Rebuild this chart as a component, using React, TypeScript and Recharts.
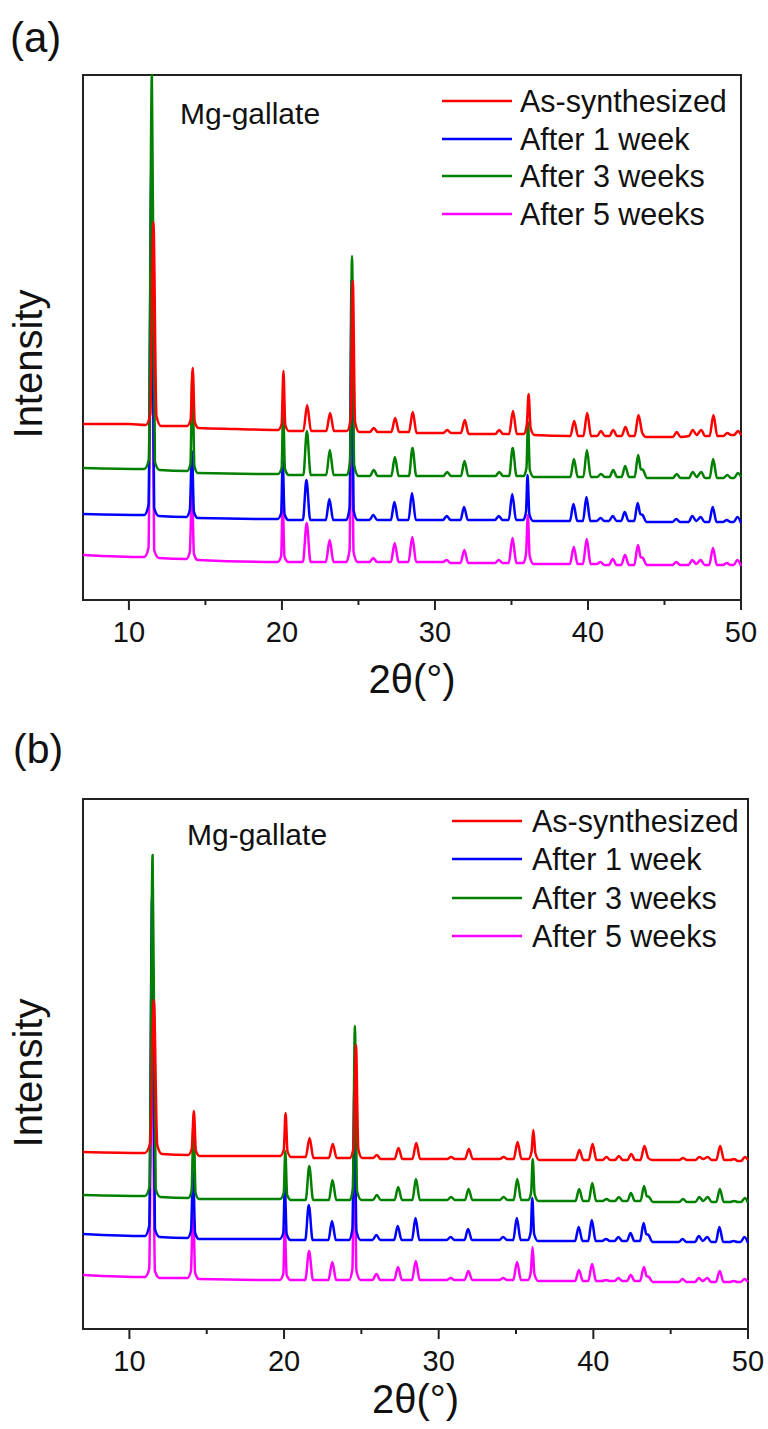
import { Legend, Line, LineChart, ReferenceArea, XAxis, YAxis } from "recharts";

type Pt = [number, number];

const FONT = '"Liberation Sans", Arial, sans-serif';

const X_TICKS = [10, 15, 20, 25, 30, 35, 40, 45, 50];
const X_LABELS = [10, 20, 30, 40, 50];

const SERIES_NAMES = ["As-synthesized", "After 1 week", "After 3 weeks", "After 5 weeks"];
const SERIES_COLORS = ["#ff0000", "#0000ff", "#008000", "#ff00ff"];

// panel (a), intensity in arbitrary units, curves already offset
const redA: Pt[] = [
  [7, 176], [10, 176], [11.1, 175], [11.4, 186], [11.6, 378], [11.8, 184], [12.1, 174],
  [13.8, 174], [14.03, 180], [14.17, 232], [14.3, 178], [14.55, 172],
  [17, 171], [19.75, 170], [19.98, 176], [20.1, 229], [20.22, 175], [20.45, 169],
  [21.4, 169], [21.65, 195], [21.9, 169],
  [22.9, 169], [23.15, 187], [23.4, 169],
  [24.25, 169], [24.5, 182], [24.63, 319], [24.78, 178], [25.05, 168],
  [25.75, 168], [26.0, 172], [26.25, 168],
  [27.15, 168], [27.4, 182], [27.65, 168],
  [28.3, 168], [28.55, 188], [28.8, 167],
  [30.55, 167], [30.8, 170], [31.05, 167],
  [31.7, 167], [31.95, 180], [32.2, 166],
  [33.95, 166], [34.2, 170], [34.45, 166],
  [34.85, 166], [35.1, 189], [35.35, 166],
  [35.8, 166], [36.0, 175], [36.12, 206], [36.25, 172], [36.5, 165],
  [38.85, 164], [39.1, 179], [39.35, 164],
  [39.7, 164], [39.95, 187], [40.2, 164],
  [40.6, 164], [40.85, 169], [41.1, 164],
  [41.4, 164], [41.65, 170], [41.9, 164],
  [42.2, 164], [42.45, 173], [42.7, 164],
  [43.05, 164], [43.3, 185], [43.55, 167], [43.8, 163],
  [45.55, 163], [45.8, 168], [46.05, 163],
  [46.6, 164], [46.85, 170], [47.1, 165], [47.4, 170], [47.65, 164],
  [47.95, 164], [48.2, 185], [48.45, 164],
  [48.85, 164], [49.1, 167], [49.35, 165],
  [49.55, 165], [49.8, 169], [50, 165],
];

const blueA: Pt[] = [
  [7, 86], [11.0, 85], [11.28, 95], [11.47, 430], [11.65, 92], [11.95, 84],
  [13.75, 83], [13.98, 90], [14.12, 149], [14.25, 88], [14.5, 82],
  [19.72, 81], [19.95, 87], [20.05, 140], [20.17, 86], [20.42, 80],
  [21.37, 80], [21.6, 120], [21.85, 80],
  [22.87, 80], [23.1, 101], [23.35, 80],
  [24.2, 80], [24.42, 92], [24.55, 320], [24.68, 90], [24.95, 80],
  [25.72, 80], [25.97, 85], [26.22, 80],
  [27.12, 80], [27.35, 98], [27.6, 80],
  [28.27, 80], [28.5, 107], [28.75, 80],
  [30.52, 80], [30.77, 84], [31.02, 80],
  [31.67, 80], [31.9, 93], [32.15, 80],
  [33.92, 80], [34.17, 84], [34.42, 80],
  [34.82, 80], [35.05, 106], [35.3, 80],
  [35.77, 80], [35.95, 88], [36.05, 125], [36.17, 86], [36.42, 79],
  [38.82, 79], [39.05, 96], [39.3, 79],
  [39.67, 79], [39.9, 103], [40.15, 79],
  [40.57, 79], [40.82, 82], [41.07, 79],
  [41.37, 79], [41.62, 84], [41.87, 79],
  [42.17, 79], [42.4, 88], [42.65, 79],
  [43.02, 79], [43.25, 97], [43.42, 86], [43.57, 85], [43.82, 78],
  [45.52, 78], [45.77, 81], [46.02, 78],
  [46.57, 78], [46.82, 84], [47.07, 79], [47.37, 83], [47.62, 78],
  [47.92, 78], [48.15, 93], [48.4, 78],
  [48.82, 78], [49.07, 80], [49.32, 78],
  [49.52, 78], [49.77, 83], [50, 77],
];

const greenA: Pt[] = [
  [7, 132], [11.0, 131], [11.3, 140], [11.5, 525], [11.7, 138], [12.0, 130],
  [13.8, 129], [14.02, 136], [14.15, 228], [14.28, 134], [14.5, 127],
  [19.75, 126], [19.98, 132], [20.08, 188], [20.2, 131], [20.45, 125],
  [21.4, 125], [21.63, 169], [21.88, 125],
  [22.9, 125], [23.13, 150], [23.38, 125],
  [24.25, 125], [24.45, 138], [24.58, 344], [24.72, 135], [25.0, 124],
  [25.75, 124], [26.0, 130], [26.25, 124],
  [27.15, 124], [27.38, 143], [27.63, 124],
  [28.3, 124], [28.53, 152], [28.78, 124],
  [30.55, 124], [30.8, 128], [31.05, 124],
  [31.7, 124], [31.93, 139], [32.18, 124],
  [33.95, 124], [34.2, 128], [34.45, 124],
  [34.85, 124], [35.08, 152], [35.33, 124],
  [35.8, 124], [35.98, 132], [36.08, 178], [36.2, 130], [36.45, 123],
  [38.85, 123], [39.08, 141], [39.33, 123],
  [39.7, 123], [39.93, 150], [40.18, 123],
  [40.6, 123], [40.85, 126], [41.1, 123],
  [41.4, 123], [41.65, 130], [41.9, 123],
  [42.2, 123], [42.43, 134], [42.68, 123],
  [43.05, 123], [43.28, 145], [43.45, 131], [43.6, 130], [43.85, 122],
  [45.55, 122], [45.8, 126], [46.05, 122],
  [46.6, 122], [46.85, 128], [47.1, 123], [47.4, 128], [47.65, 122],
  [47.95, 122], [48.18, 141], [48.43, 122],
  [48.85, 122], [49.1, 125], [49.35, 122],
  [49.55, 122], [49.8, 127], [50, 123],
];

const magentaA: Pt[] = [
  [7, 45], [11.0, 43], [11.28, 52], [11.47, 380], [11.65, 50], [11.95, 42],
  [13.75, 41], [13.98, 48], [14.12, 112], [14.25, 46], [14.5, 40],
  [19.72, 38], [19.95, 44], [20.05, 97], [20.17, 43], [20.42, 38],
  [21.37, 38], [21.62, 77], [21.87, 38],
  [22.87, 38], [23.12, 60], [23.37, 38],
  [24.2, 38], [24.42, 50], [24.55, 250], [24.68, 48], [24.95, 38],
  [25.72, 38], [25.97, 42], [26.22, 38],
  [27.12, 38], [27.37, 57], [27.62, 38],
  [28.27, 38], [28.52, 63], [28.77, 38],
  [30.52, 38], [30.77, 40], [31.02, 37],
  [31.67, 37], [31.92, 50], [32.17, 37],
  [33.92, 37], [34.17, 40], [34.42, 37],
  [34.82, 37], [35.07, 62], [35.32, 37],
  [35.77, 37], [35.95, 46], [36.07, 85], [36.19, 44], [36.44, 36],
  [38.82, 36], [39.07, 53], [39.32, 36],
  [39.67, 36], [39.92, 61], [40.17, 36],
  [40.57, 36], [40.82, 38], [41.07, 35],
  [41.37, 35], [41.62, 41], [41.87, 35],
  [42.17, 35], [42.42, 45], [42.67, 35],
  [43.02, 35], [43.27, 55], [43.44, 43], [43.59, 42], [43.84, 35],
  [45.52, 35], [45.77, 38], [46.02, 35],
  [46.57, 35], [46.82, 40], [47.07, 36], [47.37, 40], [47.62, 35],
  [47.92, 35], [48.17, 52], [48.42, 35],
  [48.82, 35], [49.07, 37], [49.32, 35],
  [49.52, 35], [49.77, 40], [50, 34],
];

// panel (b)
const redB: Pt[] = [
  [7, 177], [11.0, 176], [11.35, 186], [11.58, 329], [11.8, 184], [12.1, 175],
  [13.8, 174], [14.03, 180], [14.17, 218], [14.3, 178], [14.55, 173],
  [19.75, 173], [19.98, 179], [20.1, 216], [20.22, 178], [20.45, 172],
  [21.4, 172], [21.65, 191], [21.9, 171],
  [22.9, 171], [23.15, 185], [23.4, 171],
  [24.25, 171], [24.5, 182], [24.65, 284], [24.8, 180], [25.05, 171],
  [25.75, 171], [26.0, 174], [26.25, 170],
  [27.15, 170], [27.4, 181], [27.65, 170],
  [28.3, 170], [28.55, 186], [28.8, 170],
  [30.55, 170], [30.8, 172], [31.05, 170],
  [31.7, 170], [31.95, 180], [32.2, 170],
  [33.95, 170], [34.2, 172], [34.45, 170],
  [34.85, 170], [35.1, 187], [35.35, 170],
  [35.8, 170], [36.0, 177], [36.12, 199], [36.25, 176], [36.5, 169],
  [38.85, 169], [39.1, 179], [39.35, 169],
  [39.7, 169], [39.95, 185], [40.2, 169],
  [40.6, 169], [40.85, 172], [41.1, 169],
  [41.4, 169], [41.65, 173], [41.9, 169],
  [42.2, 169], [42.45, 175], [42.7, 169],
  [43.05, 169], [43.3, 183], [43.55, 171], [43.8, 169],
  [45.55, 169], [45.8, 171], [46.05, 169],
  [46.6, 169], [46.85, 172], [47.1, 170], [47.4, 172], [47.65, 169],
  [47.95, 169], [48.2, 183], [48.45, 169],
  [48.85, 169], [49.1, 170], [49.35, 168],
  [49.55, 168], [49.8, 172], [50, 169],
];

const blueB: Pt[] = [
  [7, 95], [11.0, 93], [11.28, 103], [11.47, 433], [11.65, 100], [11.95, 92],
  [13.75, 91], [13.98, 98], [14.12, 158], [14.25, 96], [14.5, 90],
  [19.72, 90], [19.95, 96], [20.05, 142], [20.17, 95], [20.42, 89],
  [21.37, 89], [21.6, 124], [21.85, 89],
  [22.87, 89], [23.1, 108], [23.35, 89],
  [24.2, 89], [24.42, 100], [24.55, 240], [24.68, 98], [24.95, 89],
  [25.72, 89], [25.97, 94], [26.22, 89],
  [27.12, 89], [27.35, 103], [27.6, 89],
  [28.27, 89], [28.5, 111], [28.75, 89],
  [30.52, 89], [30.77, 92], [31.02, 89],
  [31.67, 89], [31.9, 100], [32.15, 89],
  [33.92, 89], [34.17, 92], [34.42, 89],
  [34.82, 89], [35.05, 111], [35.3, 89],
  [35.77, 89], [35.95, 97], [36.05, 131], [36.17, 95], [36.42, 88],
  [38.82, 88], [39.05, 102], [39.3, 88],
  [39.67, 88], [39.9, 109], [40.15, 88],
  [40.57, 88], [40.82, 90], [41.07, 88],
  [41.37, 88], [41.62, 92], [41.87, 88],
  [42.17, 88], [42.4, 96], [42.65, 88],
  [43.02, 88], [43.25, 106], [43.42, 95], [43.57, 94], [43.82, 87],
  [45.52, 87], [45.77, 90], [46.02, 87],
  [46.57, 87], [46.82, 93], [47.07, 88], [47.37, 92], [47.62, 87],
  [47.92, 87], [48.15, 102], [48.4, 87],
  [48.82, 87], [49.07, 88], [49.32, 87],
  [49.52, 87], [49.77, 92], [50, 86],
];

const greenB: Pt[] = [
  [7, 134], [11.0, 133], [11.3, 142], [11.5, 474], [11.7, 140], [12.0, 132],
  [13.8, 131], [14.02, 138], [14.15, 208], [14.28, 136], [14.5, 130],
  [19.75, 130], [19.98, 136], [20.08, 178], [20.2, 134], [20.45, 129],
  [21.4, 129], [21.63, 163], [21.88, 129],
  [22.9, 129], [23.13, 149], [23.38, 129],
  [24.25, 129], [24.45, 140], [24.58, 303], [24.72, 138], [25.0, 129],
  [25.75, 129], [26.0, 134], [26.25, 129],
  [27.15, 129], [27.38, 142], [27.63, 129],
  [28.3, 129], [28.53, 150], [28.78, 129],
  [30.55, 129], [30.8, 132], [31.05, 129],
  [31.7, 129], [31.93, 140], [32.18, 129],
  [33.95, 129], [34.2, 132], [34.45, 129],
  [34.85, 129], [35.08, 150], [35.33, 129],
  [35.8, 129], [35.98, 137], [36.08, 170], [36.2, 135], [36.45, 128],
  [38.85, 128], [39.08, 140], [39.33, 128],
  [39.7, 128], [39.93, 146], [40.18, 128],
  [40.6, 128], [40.85, 130], [41.1, 128],
  [41.4, 128], [41.65, 132], [41.9, 128],
  [42.2, 128], [42.43, 136], [42.68, 128],
  [43.05, 128], [43.28, 143], [43.45, 133], [43.6, 132], [43.85, 127],
  [45.55, 127], [45.8, 130], [46.05, 127],
  [46.6, 127], [46.85, 132], [47.1, 128], [47.4, 132], [47.65, 127],
  [47.95, 127], [48.18, 140], [48.43, 127],
  [48.85, 127], [49.1, 128], [49.35, 127],
  [49.55, 127], [49.8, 131], [50, 126],
];

const magentaB: Pt[] = [
  [7, 54], [11.0, 52], [11.28, 60], [11.47, 330], [11.65, 58], [11.95, 51],
  [13.75, 51], [13.98, 58], [14.12, 126], [14.25, 56], [14.5, 50],
  [19.72, 49], [19.95, 55], [20.05, 101], [20.17, 54], [20.42, 49],
  [21.37, 49], [21.62, 78], [21.87, 49],
  [22.87, 49], [23.12, 67], [23.37, 49],
  [24.2, 49], [24.42, 60], [24.55, 200], [24.68, 58], [24.95, 49],
  [25.72, 49], [25.97, 55], [26.22, 49],
  [27.12, 49], [27.37, 62], [27.62, 49],
  [28.27, 49], [28.52, 68], [28.77, 49],
  [30.52, 49], [30.77, 51], [31.02, 49],
  [31.67, 49], [31.92, 58], [32.17, 49],
  [33.92, 49], [34.17, 51], [34.42, 49],
  [34.82, 49], [35.07, 67], [35.32, 49],
  [35.77, 49], [35.95, 56], [36.07, 82], [36.19, 55], [36.44, 48],
  [38.82, 48], [39.07, 59], [39.32, 48],
  [39.67, 48], [39.92, 65], [40.17, 48],
  [40.57, 48], [40.82, 49], [41.07, 48],
  [41.37, 48], [41.62, 51], [41.87, 48],
  [42.17, 48], [42.42, 54], [42.67, 48],
  [43.02, 48], [43.27, 62], [43.44, 53], [43.59, 52], [43.84, 47],
  [45.52, 47], [45.77, 50], [46.02, 47],
  [46.57, 47], [46.82, 51], [47.07, 48], [47.37, 51], [47.62, 47],
  [47.92, 47], [48.17, 58], [48.42, 47],
  [48.82, 47], [49.07, 48], [49.32, 47],
  [49.52, 47], [49.77, 50], [50, 47],
];

const toRows = (pts: Pt[]) => pts.map(([x, y]) => ({ x, y }));

function AxisTick({ x, y, payload }: any) {
  const major = X_LABELS.includes(payload.value);
  return (
    <g>
      <line x1={x} y1={y} x2={x} y2={y + (major ? 10 : 5)} stroke="#222" strokeWidth={2} />
      {major && (
        <text x={x} y={y + 42} textAnchor="middle" fontSize={29} fill="#111" fontFamily={FONT}>
          {payload.value}
        </text>
      )}
    </g>
  );
}

function LegendBox({ rowH, gap }: { rowH: number; gap: number }) {
  return (
    <div style={{ fontFamily: FONT, fontSize: 30.5, color: "#111" }}>
      {SERIES_NAMES.map((name, i) => (
        <div key={name} style={{ display: "flex", alignItems: "center", height: rowH }}>
          <svg width={70} height={4} style={{ display: "block" }}>
            <line x1={0} y1={2} x2={70} y2={2} stroke={SERIES_COLORS[i]} strokeWidth={2.5} />
          </svg>
          <span style={{ marginLeft: gap, lineHeight: "34px", whiteSpace: "nowrap" }}>{name}</span>
        </div>
      ))}
    </div>
  );
}

interface PanelProps {
  height: number;
  margin: { top: number; right: number; bottom: number; left: number };
  yMax: number;
  red: Pt[];
  blue: Pt[];
  green: Pt[];
  magenta: Pt[];
  legendLeft: number;
  legendTop: number;
  rowH: number;
  gap: number;
  titleOffset: number;
}

function Panel(p: PanelProps) {
  // draw order: magenta, blue, green, red on top
  const order: [Pt[], string][] = [
    [p.magenta, SERIES_COLORS[3]],
    [p.blue, SERIES_COLORS[1]],
    [p.green, SERIES_COLORS[2]],
    [p.red, SERIES_COLORS[0]],
  ];
  return (
    <LineChart width={768} height={p.height} margin={p.margin}>
      <XAxis
        type="number"
        dataKey="x"
        domain={[7, 50]}
        ticks={X_TICKS}
        interval={0}
        tick={<AxisTick />}
        tickLine={false}
        tickSize={0}
        tickMargin={0}
        axisLine={false}
        height={100}
        label={(lp: any) => {
          const vb = lp.viewBox;
          return (
            <text x={vb.x + vb.width / 2} y={vb.y + p.titleOffset} textAnchor="middle" fontSize={40} fill="#111" fontFamily={FONT}>
              2θ(°)
            </text>
          );
        }}
      />
      <YAxis type="number" dataKey="y" domain={[0, p.yMax]} hide />
      {order.map(([pts, color]) => (
        <Line
          key={color}
          data={toRows(pts)}
          dataKey="y"
          type="monotone"
          stroke={color}
          strokeWidth={2.5}
          strokeLinejoin="round"
          dot={false}
          activeDot={false}
          isAnimationActive={false}
        />
      ))}
      <ReferenceArea x1={7} x2={50} y1={0} y2={p.yMax} fill="none" fillOpacity={0} stroke="#222" strokeWidth={2} ifOverflow="visible" />
      <Legend
        layout="horizontal"
        verticalAlign="middle"
        align="center"
        wrapperStyle={{ left: p.legendLeft, top: p.legendTop, width: 320 }}
        content={() => <LegendBox rowH={p.rowH} gap={p.gap} />}
      />
    </LineChart>
  );
}

export default function App() {
  return (
    <div style={{ position: "absolute", left: 0, top: 0, width: 768, height: 1429, background: "#fff", fontFamily: FONT }}>
      <div style={{ position: "absolute", left: 0, top: 0 }}>
        <Panel
          height={720}
          margin={{ top: 75, right: 27, bottom: 20, left: 83 }}
          yMax={525}
          red={redA}
          blue={blueA}
          green={greenA}
          magenta={magentaA}
          legendLeft={442}
          legendTop={82}
          rowH={37.7}
          gap={8}
          titleOffset={93}
        />
      </div>
      <div style={{ position: "absolute", left: 0, top: 724 }}>
        <Panel
          height={705}
          margin={{ top: 75, right: 20, bottom: 0, left: 83 }}
          yMax={530}
          red={redB}
          blue={blueB}
          green={greenB}
          magenta={magentaB}
          legendLeft={452}
          legendTop={78}
          rowH={38.3}
          gap={10}
          titleOffset={84}
        />
      </div>
      <svg width={768} height={1429} style={{ position: "absolute", left: 0, top: 0, pointerEvents: "none" }} fontFamily={FONT} fill="#111">
        <text x={10} y={52} fontSize={42}>(a)</text>
        <text x={13} y={763} fontSize={41}>(b)</text>
        <text x={42} y={364} fontSize={40} textAnchor="middle" transform="rotate(-90 42 364)">Intensity</text>
        <text x={42} y={1073} fontSize={40} textAnchor="middle" transform="rotate(-90 42 1073)">Intensity</text>
        <text x={180} y={124} fontSize={30}>Mg-gallate</text>
        <text x={187} y={845} fontSize={30}>Mg-gallate</text>
      </svg>
    </div>
  );
}
